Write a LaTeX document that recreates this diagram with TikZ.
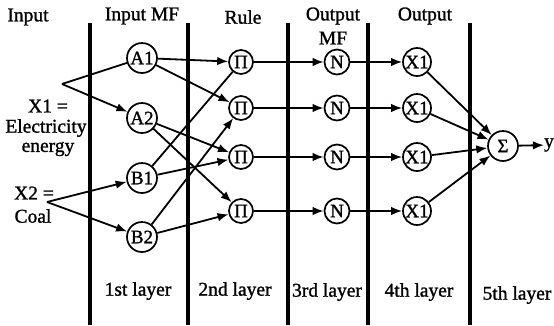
\documentclass[tikz,border=0pt]{standalone}
\usepackage{fontspec}
\setmainfont{Liberation Serif}[FakeBold=1.2]
\usetikzlibrary{arrows.meta}
\begin{document}
\begin{tikzpicture}[x=1pt,y=-1pt,
  lbl/.style={font=\fontsize{19.5}{21}\selectfont, inner sep=0pt, align=center},
  neuron/.style={draw, circle, line width=1.7pt, inner sep=0pt, font=\fontsize{19}{20}\selectfont},
  an/.style={neuron, minimum size=30pt},
  rn/.style={neuron, minimum size=24pt},
  nn/.style={neuron, minimum size=25pt},
  xn/.style={neuron, minimum size=28pt},
  sn/.style={neuron, minimum size=30pt},
  sep/.style={line width=3.5pt},
  conn/.style={line width=1.8pt},
  arr/.style={conn, -{Latex[length=11pt,width=8.5pt]}}
]
\useasboundingbox (0,0) rectangle (554,325);
% layer separators
\coordinate (s1t) at (90,23); \coordinate (s1b) at (90,325);
\coordinate (s2t) at (188,23); \coordinate (s2b) at (188,325);
\coordinate (s3t) at (288,23); \coordinate (s3b) at (288,325);
\coordinate (s4t) at (368,23); \coordinate (s4b) at (368,325);
\coordinate (s5t) at (470,23); \coordinate (s5b) at (470,325);
\draw[sep] (s1t) -- (s1b);
\draw[sep] (s2t) -- (s2b);
\draw[sep] (s3t) -- (s3b);
\draw[sep] (s4t) -- (s4b);
\draw[sep] (s5t) -- (s5b);
% headers
\node[lbl] (hIn) at (28,17) {Input};
\node[lbl] (hInMF) at (142,16) {Input MF};
\node[lbl] (hRule) at (243,17) {Rule};
\node[lbl] (hOut1) at (333,16) {Output};
\node[lbl] (hOut2) at (333,38) {MF};
\node[lbl] (hOut) at (425,16) {Output};
% bottom labels
\node[lbl] (l1) at (138,291) {1st layer};
\node[lbl] (l2) at (235,291) {2nd layer};
\node[lbl] (l3) at (327,292) {3rd layer};
\node[lbl] (l4) at (419,292) {4th layer};
\node[lbl] (l5) at (517,295) {5th layer};
% inputs
\node[lbl] (x1a) at (48,106) {X1 =};
\node[lbl] (x1b) at (46,128) {Electricity};
\node[lbl] (x1c) at (48,149) {energy};
\node[lbl] (x2a) at (34,193) {X2 =};
\node[lbl] (x2b) at (33,216) {Coal};
\coordinate (v1) at (62,84);
\coordinate (v2) at (47,202);
% layer 1
\node[an] (A1) at (142,58) {A1};
\node[an] (A2) at (142,118) {A2};
\node[an] (B1) at (142,178) {B1};
\node[an] (B2) at (142,237) {B2};
% layer 2
\node[rn] (P1) at (241,62) {Π};
\node[rn] (P2) at (241,108) {Π};
\node[rn] (P3) at (241,157) {Π};
\node[rn] (P4) at (241,211) {Π};
% layer 3
\node[nn] (N1) at (337,62) {N};
\node[nn] (N2) at (337,108) {N};
\node[nn] (N3) at (337,157) {N};
\node[nn] (N4) at (337,211) {N};
% layer 4
\node[xn] (X1) at (417,62) {X1};
\node[xn] (X2) at (417,108) {X1};
\node[xn] (X3) at (417,157) {X1};
\node[xn] (X4) at (417,211) {X1};
% layer 5
\node[sn] (S) at (503,146) {Σ};
\node[lbl] (y) at (549,145) {y};
% input connectors
\draw[conn] (v1) -- (A1);
\draw[arr] (v1) -- (A2);
\draw[arr] (v2) -- (B1);
\draw[arr] (v2) -- (B2);
% layer1 -> layer2
\draw[arr] (A1) -- (P1);
\draw[arr] (A1) -- (P2);
\draw[arr] (A2) -- (P3);
\draw[arr] (A2) -- (P4);
\draw[conn] (B1) -- (P1);
\draw[arr] (B1) -- (P3);
\draw[arr] (B2) -- (P2);
\draw[arr] (B2) -- (P4);
% layer2 -> 3 -> 4
\draw[arr] (P1) -- (N1);
\draw[arr] (P2) -- (N2);
\draw[arr] (P3) -- (N3);
\draw[arr] (P4) -- (N4);
\draw[arr] (N1) -- (X1);
\draw[arr] (N2) -- (X2);
\draw[arr] (N3) -- (X3);
\draw[arr] (N4) -- (X4);
% layer4 -> 5
\draw[arr] (X1) -- (S);
\draw[arr] (X2) -- (S);
\draw[arr] (X3) -- (S);
\draw[arr] (X4) -- (S);
\draw[arr] (S) -- (y);
\end{tikzpicture}
\end{document}
